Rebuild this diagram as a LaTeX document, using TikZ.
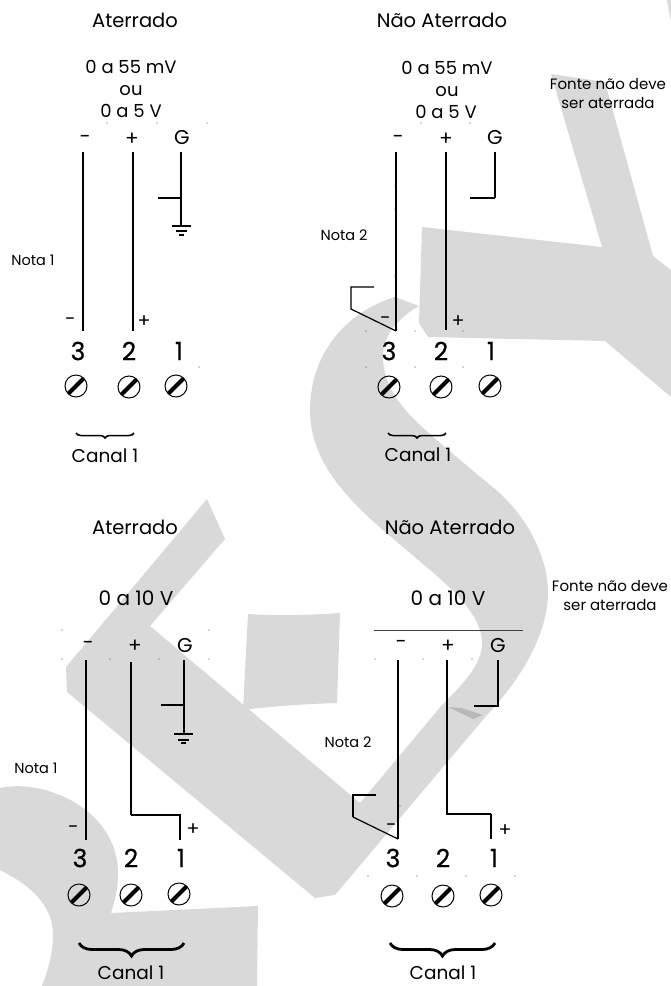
\documentclass[tikz,border=0pt]{standalone}
\usepackage{fontspec}
\setmainfont{Poppins}
\newfontfamily\numfont[FakeBold=0.5]{Poppins}
\usetikzlibrary{decorations.pathreplacing}
\definecolor{wm}{HTML}{D9D9D9}
\definecolor{wmd}{HTML}{B8B8B8}
\tikzset{
  x=1pt,y=-1pt,
  wmark/.style={fill=wm,draw=none},
  ttitle/.style={font=\fontsize{19.5}{20}\selectfont,inner sep=0pt},
  trange/.style={font=\fontsize{18}{20}\selectfont,inner sep=0pt},
  trangeb/.style={font=\fontsize{20}{22}\selectfont,inner sep=0pt},
  tpol/.style={font=\fontsize{20}{22}\selectfont,inner sep=0pt},
  tnota/.style={font=\fontsize{14.5}{16}\selectfont,inner sep=0pt},
  tside/.style={font=\fontsize{19}{20}\selectfont,inner sep=0pt},
  tnum/.style={font=\numfont\fontsize{25}{26}\selectfont,inner sep=0pt},
  tcanal/.style={font=\fontsize{18.5}{20}\selectfont,inner sep=0pt},
  tfonte/.style={font=\fontsize{15}{19}\selectfont,inner sep=0pt,align=center},
  thinw/.style={draw=black,line width=1.2pt,line cap=butt,line join=miter},
  thickw/.style={draw=black,line width=2.4pt,line cap=butt,line join=miter},
  screw/.style={circle,draw=black,line width=1pt,minimum size=22pt,inner sep=0pt,
    path picture={\draw[line width=4pt,black]
      (path picture bounding box.south west)--(path picture bounding box.north east);}},
  speck/.style={circle,fill=black!70,minimum size=1.2pt,inner sep=0pt},
  thinbrace/.style={draw=black,line width=1.5pt,decorate,decoration={brace,mirror,amplitude=5pt}},
  fatbrace/.style={draw=black,line width=2.8pt,decorate,decoration={brace,mirror,amplitude=13pt}},
}
\begin{document}
\begin{tikzpicture}
\useasboundingbox (0,0) rectangle (671,986);
% watermark
\fill[wmark] (551,74)--(605,82)--(653,256)--(671,270)--(671,397)--(605,341)--(428,337)--(419,323)--(422,227)--(602,247)--cycle;
\fill[wmark] (667,0)--(671,0)--(671,22)--cycle;
\fill[wmark] (395,297) .. controls (345,312) and (310,355) .. (310,410)
  .. controls (310,460) and (345,497) .. (383,530) -- (430,570)
  .. controls (462,597) and (482,620) .. (482,643)
  .. controls (482,665) and (462,685) .. (442,705) -- (487,715)
  .. controls (525,675) and (548,630) .. (548,593)
  .. controls (548,555) and (525,512) .. (490,485) -- (440,443) -- (420,425)
  .. controls (395,402) and (383,380) .. (383,357)
  .. controls (383,335) and (398,318) .. (419,306) -- cycle;
\fill[wmark] (207,499)--(225,539)--(150,626)--(360,803)--(442,705)--(487,715)--(335,895)--(315,898)--(67,692)--(66,667)--cycle;
\fill[wmark] (248,614) .. controls (280,616) and (310,615) .. (340,613) -- (337,703) .. controls (305,704) and (275,706) .. (243,710) -- cycle;
\fill[wmark] (0,788) .. controls (45,778) and (118,810) .. (118,873) .. controls (118,890) and (115,900) .. (111,913) -- (258,906)--(257,986)--(42,986)
  .. controls (50,965) and (53,950) .. (53,935) .. controls (53,905) and (30,885) .. (0,870) -- cycle;
\fill[wmd] (448,707)--(473,719)--(483,715)--(462,708)--cycle;

% Panel 1
\node[ttitle] (t1) at (135,20) {Aterrado};
\node[trange] (r1a) at (131,67) {0 a 55 mV};
\node[trange] (r1b) at (131,91) {ou};
\node[trange] (r1c) at (131,111) {0 a 5 V};
\node[tpol] (m1) at (85,139) {−};
\node[tpol] (p1) at (132,139) {+};
\node[tpol] (g1) at (182,138) {G};
\node[tnota] (n1) at (33,260) {Nota 1};
\node[tside] (sm1) at (70,322) {−};
\node[tside] (sp1) at (144,322) {+};
\node[tnum] (a3) at (78,351) {3};
\node[tnum] (a2) at (129,351) {2};
\node[tnum] (a1) at (179,351) {1};
\node[screw] (as3) at (76,386) {};
\node[screw] (as2) at (129,387) {};
\node[screw] (as1) at (176,386) {};
\node[tcanal] (c1) at (105,456) {Canal 1};
\coordinate (w1a) at (83,152); \coordinate (w1b) at (83,331);
\coordinate (w1c) at (133,152); \coordinate (w1d) at (133,331);
\coordinate (w1e) at (181,152); \coordinate (w1f) at (181,226);
\coordinate (w1g) at (158,198); \coordinate (w1h) at (181,198);
\draw[thickw] (w1a)--(w1b);
\draw[thickw] (w1c)--(w1d);
\draw[thinw] (w1e)--(w1f);
\draw[thickw] (w1g)--(w1h);
\draw[thinw] (172,226)--(191,226);
\draw[thinw] (176,231)--(187,231);
\draw[thickw] (179,235)--(184,235);
\coordinate (b1l) at (76,433); \coordinate (b1r) at (134,433);
\draw[thinbrace] (b1l)--(b1r);
\foreach \p in {(107,123),(157,123),(207,123),(199,367)} \node[speck] at \p {};

% Panel 2
\node[ttitle] (t2) at (442,20) {Não Aterrado};
\node[trange] (r2a) at (447,68) {0 a 55 mV};
\node[trange] (r2b) at (447,92) {ou};
\node[trange] (r2c) at (446,112) {0 a 5 V};
\node[tpol] (m2) at (398,139) {−};
\node[tpol] (p2) at (446,139) {+};
\node[tpol] (g2) at (495,138) {G};
\node[tnota] (n2) at (344,235) {Nota 2};
\node[tside] (sm2) at (385,321) {−};
\node[tside] (sp2) at (458,322) {+};
\node[tnum] (b3) at (389,351) {3};
\node[tnum] (b2) at (441,351) {2};
\node[tnum] (b1) at (491,351) {1};
\node[screw] (bs3) at (389,387) {};
\node[screw] (bs2) at (441,387) {};
\node[screw] (bs1) at (490,386) {};
\node[tcanal] (c2) at (418,455) {Canal 1};
\node[tfonte] (f1) at (608,93.5) {Fonte não deve\\ser aterrada};
\coordinate (w2a) at (396,152); \coordinate (w2b) at (396,331);
\coordinate (w2c) at (446,152); \coordinate (w2d) at (446,330);
\coordinate (w2e) at (495,152); \coordinate (w2f) at (495,198); \coordinate (w2g) at (470,198);
\coordinate (h2a) at (374,287); \coordinate (h2b) at (351,287); \coordinate (h2c) at (351,309);
\draw[thinw] (w2a)--(w2b);
\draw[thickw] (w2c)--(w2d);
\draw[thickw] (w2e)--(w2f);
\draw[thinw] (w2f)--(w2g);
\draw[thinw] (h2a)--(h2b)--(h2c)--(w2b);
\coordinate (b2l) at (388,433); \coordinate (b2r) at (446,433);
\draw[thinbrace] (b2l)--(b2r);
\foreach \p in {(366,331),(415,331),(463,331),(366,367),(415,367),(463,367),(421,123),(470,123),(395,186),(395,209),(395,276),(395,298)} \node[speck] at \p {};

% Panel 3
\node[ttitle] (t3) at (135,527) {Aterrado};
\node[trangeb] (r3) at (136,598) {0 a 10 V};
\node[tpol] (m3) at (88,645) {−};
\node[tpol] (p3) at (135,646) {+};
\node[tpol] (g3) at (185,645) {G};
\node[tnota] (n3) at (36,768) {Nota 1};
\node[tside] (sm3) at (73,830) {−};
\node[tside] (sp3) at (193,830) {+};
\node[tnum] (d3) at (80,858) {3};
\node[tnum] (d2) at (131,858) {2};
\node[tnum] (d1) at (181,858) {1};
\node[screw] (ds3) at (79,895) {};
\node[screw] (ds2) at (131,895) {};
\node[screw] (ds1) at (179,894) {};
\node[tcanal,anchor=base] (c3) at (131,979.5) {Canal 1};
\coordinate (w3a) at (86,660); \coordinate (w3b) at (86,840);
\coordinate (w3c) at (131,662); \coordinate (w3d) at (131,815); \coordinate (w3e) at (180,815); \coordinate (w3f) at (180,840);
\coordinate (w3g) at (184,660); \coordinate (w3h) at (184,735);
\coordinate (w3i) at (161,705); \coordinate (w3j) at (184,705);
\draw[thinw] (w3a)--(w3b);
\draw[thinw] (w3c)--(w3d);
\draw[thickw] (w3d)--(w3e)--(w3f);
\draw[thickw] (w3g)--(w3h);
\draw[thinw] (w3i)--(w3j);
\draw[thinw] (174,734)--(193,734);
\draw[thinw] (178,740)--(189,740);
\draw[thickw] (181,743)--(186,743);
\coordinate (b3l) at (79,943); \coordinate (b3r) at (184,943);
\draw[fatbrace] (b3l)--(b3r);
\foreach \p in {(62,630),(209,630),(62,659),(110,659),(159,659),(209,659)} \node[speck] at \p {};

% Panel 4
\node[ttitle] (t4) at (450,527) {Não Aterrado};
\node[trangeb] (r4) at (448,598) {0 a 10 V};
\coordinate (l4a) at (374,630); \coordinate (l4b) at (523,630);
\draw[draw=black!75,line width=1pt] (l4a)--(l4b);
\node[tpol] (m4) at (401,644) {−};
\node[tpol] (p4) at (448,646) {+};
\node[tpol] (g4) at (498,645) {G};
\node[tnota] (n4) at (348,742) {Nota 2};
\node[tside] (sm4) at (391,828) {−};
\node[tside] (sp4) at (505,831) {+};
\node[tnum] (e3) at (393,858) {3};
\node[tnum] (e2) at (443,858) {2};
\node[tnum] (e1) at (494,858) {1};
\node[screw] (es3) at (392,896) {};
\node[screw] (es2) at (443,896) {};
\node[screw] (es1) at (491,895) {};
\node[tcanal,anchor=base] (c4) at (443,979.5) {Canal 1};
\node[tfonte] (f2) at (610,595.5) {Fonte não deve\\ser aterrada};
\coordinate (w4a) at (398,660); \coordinate (w4b) at (398,839);
\coordinate (w4c) at (447,660); \coordinate (w4d) at (447,814); \coordinate (w4e) at (491,814); \coordinate (w4f) at (491,839);
\coordinate (w4g) at (498,660); \coordinate (w4h) at (498,706); \coordinate (w4i) at (474,706);
\coordinate (h4a) at (376,795); \coordinate (h4b) at (353,795); \coordinate (h4c) at (353,817);
\draw[thickw] (w4a)--(w4b);
\draw[thickw] (w4c)--(w4d)--(w4e);
\draw[thinw] (w4e)--(w4f);
\draw[thickw] (w4g)--(w4h)--(w4i);
\draw[thickw] (h4a)--(h4b)--(h4c);
\draw[thinw] (h4c)--(w4b);
\coordinate (b4l) at (390,943); \coordinate (b4r) at (495,943);
\draw[fatbrace] (b4l)--(b4r);
\foreach \p in {(375,659),(423,659),(472,659),(368,876),(417,876),(466,876),(515,876),(400,806)} \node[speck] at \p {};
\end{tikzpicture}
\end{document}
